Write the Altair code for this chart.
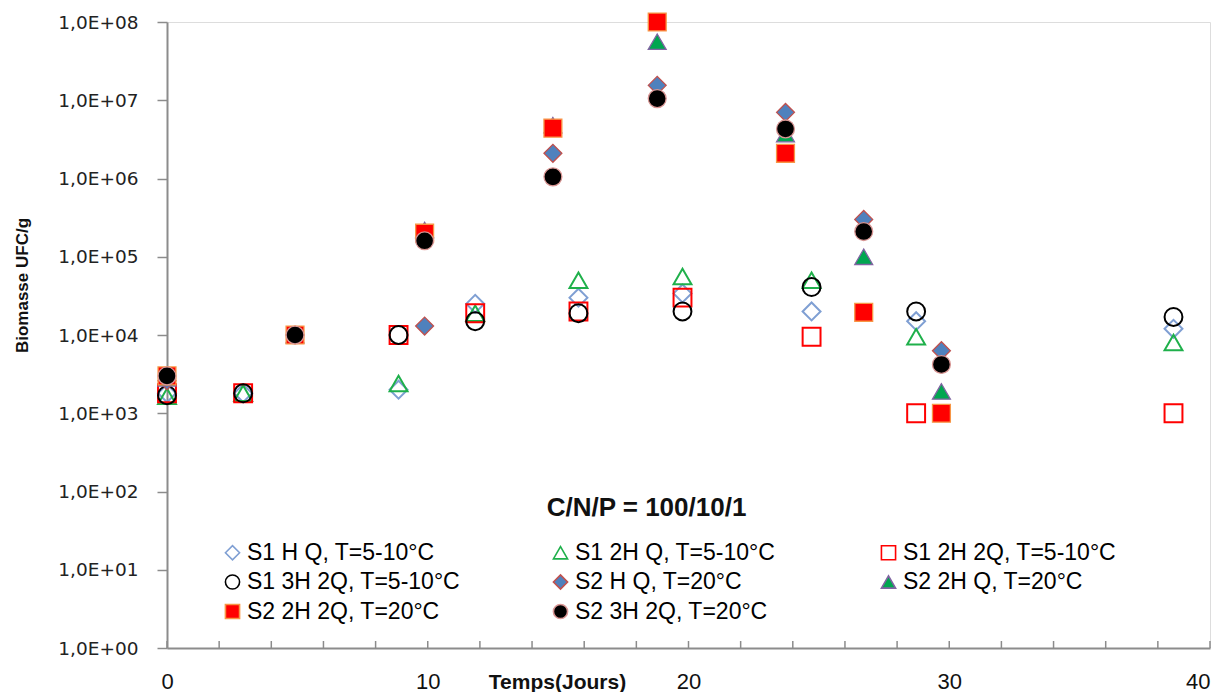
import altair as alt
import pandas as pd

# ---------------- data ----------------
# sampling days as they sit on the time axis of the picture
DAYS = [0, 2.92, 4.91, 8.88, 9.88, 11.82, 14.8, 15.78, 18.8, 19.77, 23.72, 24.72, 26.72, 28.73, 29.7, 38.6]
N = None

SERIES = [
    "S1 H Q, T=5-10°C",
    "S1 2H Q, T=5-10°C",
    "S1 2H 2Q, T=5-10°C",
    "S1 3H 2Q, T=5-10°C",
    "S2 H Q, T=20°C",
    "S2 2H Q, T=20°C",
    "S2 2H 2Q, T=20°C",
    "S2 3H 2Q, T=20°C",
]

#            0      3      5    9      10     12     15     16     19     20     24     25     27     29     30     39
S1_H_Q   = [1.8e3, 1.8e3, N,   2.0e3, N,     2.5e4, N,     3.0e4, N,     3.4e4, N,     2.0e4, N,     1.5e4, N,     1.2e4]
S1_2H_Q  = [1.65e3, 1.8e3, N,  2.4e3, N,     1.9e4, N,     5.0e4, N,     5.6e4, N,     5.0e4, N,     9.5e3, N,     8.0e3]
S1_2H_2Q = [1.8e3, 1.8e3, N,   1.0e4, N,     1.9e4, N,     2.0e4, N,     3.0e4, N,     9.5e3, N,     1.0e3, N,     1.0e3]
S1_3H_2Q = [1.7e3, 1.8e3, N,   1.0e4, N,     1.5e4, N,     1.9e4, N,     2.0e4, N,     4.1e4, N,     2.0e4, N,     1.7e4]
S2_H_Q   = [2.6e3, N,   1.0e4, N,     1.3e4, N,     2.1e6, N,     1.55e7, N,    7.0e6, N,     3.0e5, N,     6.3e3, N]
S2_2H_Q  = [2.8e3, N,   1.0e4, N,     2.2e5, N,     4.8e6, N,     5.6e7, N,     3.7e6, N,     1.0e5, N,     1.9e3, N]
S2_2H_2Q = [3.0e3, N,   1.0e4, N,     2.0e5, N,     4.4e6, N,     1.0e8, N,     2.1e6, N,     1.95e4, N,    1.0e3, N]
S2_3H_2Q = [3.0e3, N,   1.0e4, N,     1.6e5, N,     1.05e6, N,    1.05e7, N,    4.3e6, N,     2.1e5, N,     4.2e3, N]

VALUES = [S1_H_Q, S1_2H_Q, S1_2H_2Q, S1_3H_2Q, S2_H_Q, S2_2H_Q, S2_2H_2Q, S2_3H_2Q]

X_LABELS = [0, 10, 20, 30, 40]
X_TICKS = [0, 2, 4, 6, 8, 10, 12, 14, 16, 18, 20, 22, 24, 26, 28, 30, 32, 34, 36, 38, 40]
Y_TICKS = [1, 10, 100, 1e3, 1e4, 1e5, 1e6, 1e7, 1e8]

# ---------------- styles ----------------
SHAPES = ["diamond", "triangle-up", "square", "circle",
          "diamond", "triangle-up", "square", "circle"]
STROKES = ["#7f9fd3", "#1fb04b", "#ff0000", "#000000",
           "#c0504d", "#8064a2", "#f79646", "#d99694"]
FILLS = ["transparent", "transparent", "transparent", "transparent",
         "#4f81bd", "#00a650", "#ff0000", "#000000"]

FONT = "Liberation Sans"

rows = []
for i, (name, vals) in enumerate(zip(SERIES, VALUES)):
    for d, v in zip(DAYS, vals):
        if v is not None:
            rows.append({"series": name, "day": d, "value": v, "group": "open" if i < 4 else "filled"})
df = pd.DataFrame(rows)
ticks_df = pd.DataFrame({"day": X_TICKS})

W, H = 1043, 626

x_enc = alt.X(
    "day:Q",
    scale=alt.Scale(domain=[0, 40], nice=False, zero=False),
    axis=alt.Axis(
        values=X_LABELS, ticks=False, grid=False,
        domainColor="#8c8c8c", domainWidth=2,
        labelFont=FONT, labelFontSize=22, labelColor="#111",
        labelBaseline="alphabetic", labelPadding=40, labelFlush=False,
        labelAlign=alt.condition("datum.value >= 40", alt.value("right"), alt.value("center")),
        title="Temps(Jours)", titleFont=FONT, titleFontSize=21, titleFontWeight="bold",
        titleColor="#111", titleX=390, titleY=40, titleAlign="center",
        titleBaseline="alphabetic",
    ),
)

y_enc = alt.Y(
    "value:Q",
    scale=alt.Scale(type="log", domain=[1, 1e8], nice=False),
    axis=alt.Axis(
        values=Y_TICKS, grid=False,
        domainColor="#8c8c8c", domainWidth=2,
        tickColor="#8c8c8c", tickWidth=1.5, tickSize=10,
        labelExpr="'1,0E+0' + round(log(datum.value) / LN10)",
        labelFont="DejaVu Sans", labelFontSize=18.5, labelColor="#222",
        labelPadding=19,
        title="Biomasse UFC/g", titleFont=FONT, titleFontSize=17, titleFontWeight="bold",
        titleColor="#111", titleX=-145, titleY=263, titleAngle=-90,
        titleAlign="center", titleBaseline="middle",
    ),
)

legend = alt.Legend(
    title=None, orient="none", legendX=54, legendY=519, columns=3,
    direction="horizontal",
    columnPadding=88, rowPadding=5.5, gridAlign="all",
    labelFont=FONT, labelFontSize=23, labelColor="#000", labelOffset=3,
    labelLimit=400,
    symbolSize=200, symbolStrokeWidth=1.6, padding=0,
)

shape = alt.Shape("series:N", scale=alt.Scale(domain=SERIES, range=SHAPES), legend=legend)
stroke = alt.Stroke("series:N", scale=alt.Scale(domain=SERIES, range=STROKES), legend=legend)
fill = alt.Fill("series:N", scale=alt.Scale(domain=SERIES, range=FILLS), legend=legend)

ticks = alt.Chart(ticks_df).mark_rule(color="#8c8c8c", strokeWidth=1.5).encode(
    x=x_enc, y=alt.value(H), y2=alt.value(H - 7)
)

open_pts = alt.Chart(df).transform_filter(alt.datum.group == "open").mark_point(
    opacity=1, size=320, strokeWidth=2
).encode(x=x_enc, y=y_enc, shape=shape, stroke=stroke, fill=fill)

filled_pts = alt.Chart(df).transform_filter(alt.datum.group == "filled").mark_point(
    opacity=1, size=320, strokeWidth=1.3
).encode(x=x_enc, y=y_enc, shape=shape, stroke=stroke, fill=fill)

chart = alt.layer(ticks, open_pts, filled_pts).properties(
    width=W, height=H,
    autosize=alt.AutoSizeParams(type="none"),
    padding={"left": 159, "top": 14, "right": 3, "bottom": 44},
    title=alt.TitleParams(
        "C/N/P = 100/10/1", font=FONT, fontSize=26, fontWeight="bold", color="#111",
        anchor="middle", frame="group", orient="top", offset=0, dx=-42, dy=532,
        baseline="alphabetic",
    ),
).configure_view(stroke="#404040", strokeWidth=2.5).configure(background="white")

chart.save("out.html", embed_options={"renderer": "svg", "actions": False})
